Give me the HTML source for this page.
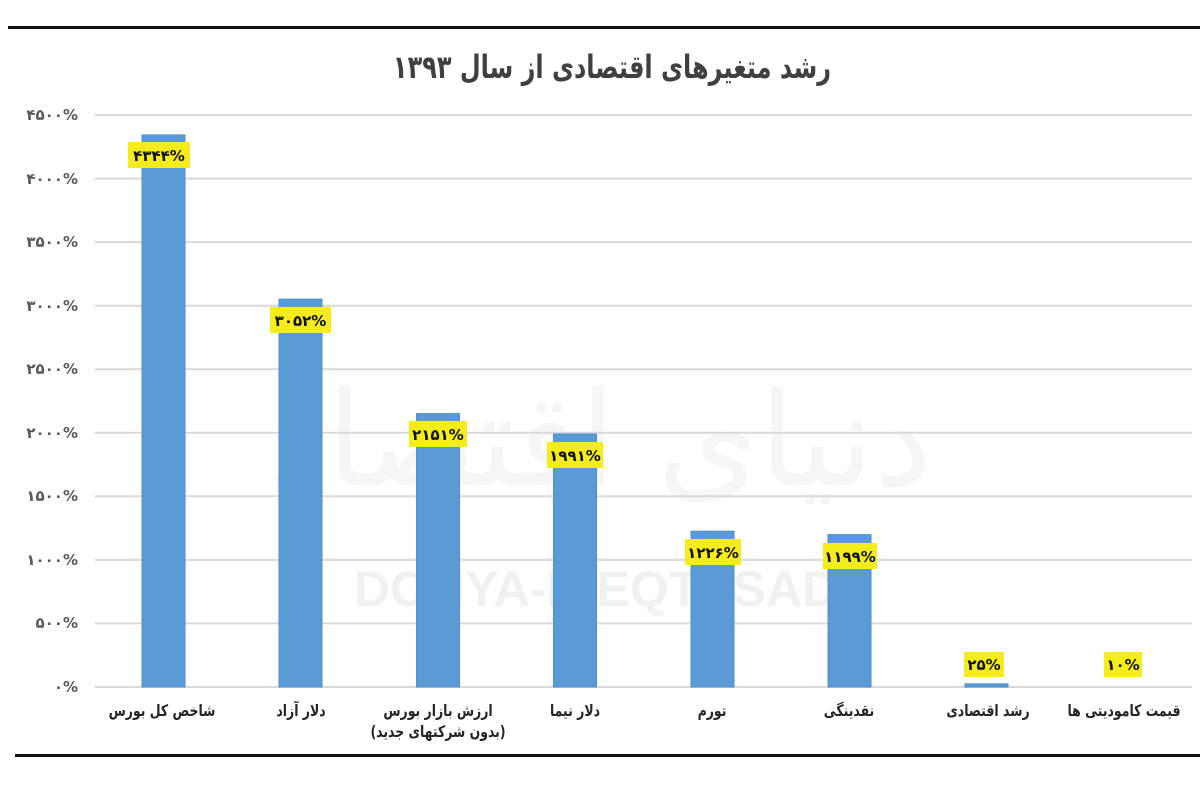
<!DOCTYPE html>
<html><head><meta charset="utf-8">
<style>
html,body{margin:0;padding:0;background:#fff;}
svg{display:block;}
.fa{font-family:"DejaVu Sans","Liberation Sans",sans-serif;}
</style></head>
<body>
<svg width="1200" height="791" viewBox="0 0 1200 791" xmlns="http://www.w3.org/2000/svg">
<rect width="1200" height="791" fill="#fff"/>
<!-- top and bottom rules -->
<rect x="8" y="26" width="1192" height="3" fill="#111"/>
<rect x="15" y="754" width="1185" height="3" fill="#111"/>

<!-- title -->
<g transform="translate(612,78) scale(0.75,1)">
<text x="0" y="0" text-anchor="middle" class="fa" font-size="32" font-weight="bold" fill="#404040" direction="rtl">رشد متغیرهای اقتصادی از سال ۱۳۹۳</text>
</g>

<!-- watermark -->
<text x="600" y="485" text-anchor="middle" class="fa" font-size="130" fill="#f6f6f6" direction="rtl">دنیای اقتصاد</text>
<text x="596" y="606" text-anchor="middle" font-family="Liberation Sans, sans-serif" font-weight="bold" font-size="50" fill="#f1f1f1">DONYA-E-EQTESAD</text>

<!-- gridlines -->
<g stroke="#d9d9d9" stroke-width="2">
<line x1="95" y1="115" x2="1192" y2="115"/>
<line x1="95" y1="178.6" x2="1192" y2="178.6"/>
<line x1="95" y1="242.1" x2="1192" y2="242.1"/>
<line x1="95" y1="305.7" x2="1192" y2="305.7"/>
<line x1="95" y1="369.2" x2="1192" y2="369.2"/>
<line x1="95" y1="432.8" x2="1192" y2="432.8"/>
<line x1="95" y1="496.3" x2="1192" y2="496.3"/>
<line x1="95" y1="559.9" x2="1192" y2="559.9"/>
<line x1="95" y1="623.4" x2="1192" y2="623.4"/>
<line x1="95" y1="687" x2="1192" y2="687"/>
</g>

<!-- y labels -->
<g class="fa" font-size="15" font-weight="bold" fill="#595959" text-anchor="end">
<text x="78" y="120">۴۵۰۰%</text>
<text x="78" y="184">۴۰۰۰%</text>
<text x="78" y="247">۳۵۰۰%</text>
<text x="78" y="311">۳۰۰۰%</text>
<text x="78" y="374">۲۵۰۰%</text>
<text x="78" y="438">۲۰۰۰%</text>
<text x="78" y="501">۱۵۰۰%</text>
<text x="78" y="565">۱۰۰۰%</text>
<text x="78" y="628">۵۰۰%</text>
<text x="78" y="692">۰%</text>
</g>

<!-- bars -->
<g fill="#5b9bd5" stroke="#4f8fd0" stroke-width="1">
<rect x="142" y="134.9" width="43" height="552.1"/>
<rect x="279" y="299.1" width="43" height="387.9"/>
<rect x="416.5" y="413.6" width="43" height="273.4"/>
<rect x="553.5" y="434" width="43" height="253"/>
<rect x="691" y="531.2" width="43" height="155.8"/>
<rect x="828" y="534.6" width="43" height="152.4"/>
<rect x="965" y="683.8" width="43" height="3.2"/>
</g>

<!-- data labels -->
<g fill="#f5ec1c">
<rect x="128" y="142" width="62" height="26"/>
<rect x="270" y="307" width="61" height="26"/>
<rect x="409" y="421" width="58" height="26"/>
<rect x="547" y="442" width="56" height="26"/>
<rect x="685" y="539" width="56" height="26"/>
<rect x="823" y="543" width="54" height="26"/>
<rect x="964" y="652" width="40" height="25"/>
<rect x="1104" y="652" width="38" height="25"/>
</g>
<g class="fa" font-size="15" font-weight="bold" fill="#111" text-anchor="middle">
<text x="159" y="161">۴۳۴۴%</text>
<text x="300.5" y="326">۳۰۵۲%</text>
<text x="438" y="440">۲۱۵۱%</text>
<text x="575" y="461">۱۹۹۱%</text>
<text x="713" y="558">۱۲۲۶%</text>
<text x="850" y="562">۱۱۹۹%</text>
<text x="984" y="670">۲۵%</text>
<text x="1123" y="670">۱۰%</text>
</g>

<!-- x labels -->
<g class="fa" font-size="16" font-weight="bold" fill="#262626" text-anchor="middle" direction="rtl">
<g transform="translate(162,716) scale(0.78,1)"><text x="0" y="0">شاخص کل بورس</text></g>
<g transform="translate(301,716) scale(0.78,1)"><text x="0" y="0">دلار آزاد</text></g>
<g transform="translate(438,716) scale(0.78,1)"><text x="0" y="0">ارزش بازار بورس</text></g>
<g transform="translate(438,737) scale(0.78,1)"><text x="0" y="0">(بدون شرکتهای جدید)</text></g>
<g transform="translate(575,716) scale(0.78,1)"><text x="0" y="0">دلار نیما</text></g>
<g transform="translate(712,716) scale(0.78,1)"><text x="0" y="0">تورم</text></g>
<g transform="translate(849,716) scale(0.78,1)"><text x="0" y="0">نقدینگی</text></g>
<g transform="translate(988,716) scale(0.78,1)"><text x="0" y="0">رشد اقتصادی</text></g>
<g transform="translate(1124,716) scale(0.78,1)"><text x="0" y="0">قیمت کامودیتی ها</text></g>
</g>
</svg>
</body></html>
